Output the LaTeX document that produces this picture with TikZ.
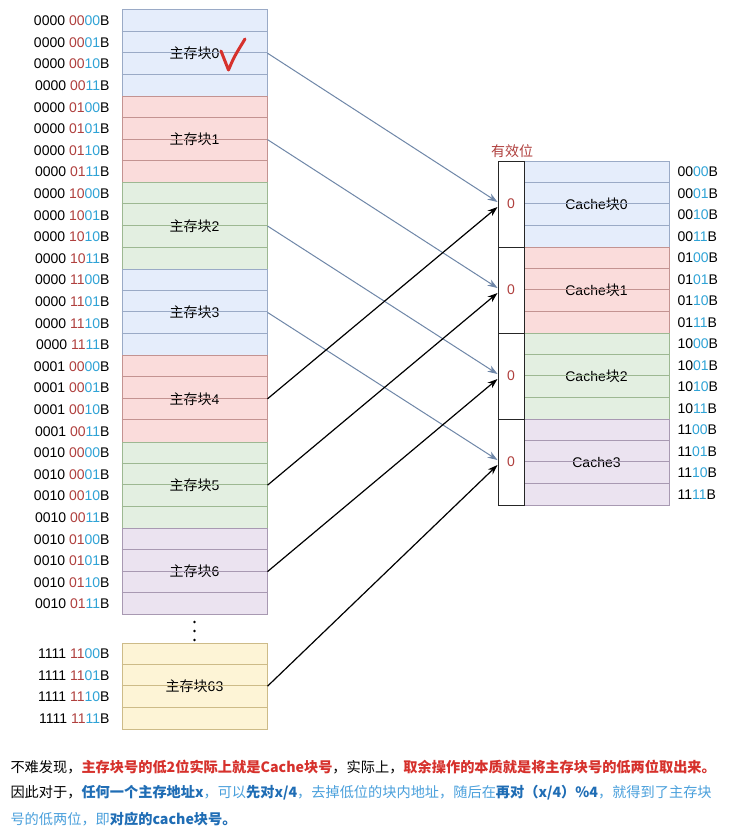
\documentclass[tikz,border=0pt]{standalone}
\usepackage{fontspec}
\usepackage{tikz}
\setmainfont{Liberation Sans}
\newfontfamily\cjk{Noto Sans CJK SC}
\definecolor{azulclaro}{HTML}{E5EDFB}
\definecolor{vermclaro}{HTML}{FADCDB}
\definecolor{verdeclaro}{HTML}{E3EFE1}
\definecolor{roxoclaro}{HTML}{EBE3F0}
\definecolor{amareloclaro}{HTML}{FDF4D6}
\definecolor{azul}{HTML}{9AAAC6}
\definecolor{verm}{HTML}{C39391}
\definecolor{verde}{HTML}{9DB892}
\definecolor{roxo}{HTML}{A899B2}
\definecolor{amarelo}{HTML}{CDBB88}
\definecolor{vermtxt}{HTML}{B0403E}
\definecolor{azultxt}{HTML}{2FA3D6}
\definecolor{setaazul}{HTML}{6F87A8}
\definecolor{vermforte}{HTML}{D6312C}
\definecolor{azulforte}{HTML}{1F6DB5}
\definecolor{azulsuave}{HTML}{4AA0DC}
\usetikzlibrary{arrows.meta}
\tikzstyle{bloco}=[rectangle, draw, minimum width=145pt, minimum height=86.4pt, inner sep=0pt, font=\fontsize{14}{16}\selectfont]
\tikzstyle{endereco}=[anchor=east, inner sep=0pt, font=\fontsize{14}{16}\selectfont]
\tikzstyle{valido}=[rectangle, draw=black!85, fill=white, minimum width=26pt, minimum height=86pt, inner sep=0pt, text=vermtxt, font=\fontsize{14}{16}\selectfont]
\tikzstyle{seta}=[draw=setaazul, -{Stealth[length=10pt,width=7pt]}]
\tikzstyle{setapreta}=[draw=black, line width=1.2pt, -{Stealth[length=10pt,width=7pt]}]
\tikzstyle{texto}=[anchor=west, inner sep=0pt, font=\cjk\fontsize{14.2}{17}\selectfont]

\begin{document}
\begin{tikzpicture}[x=1pt, y=-1pt, line width=1pt]
			\useasboundingbox (0,0) rectangle (728,840);
			\fill[white] (0,0) rectangle (728,840);
			% memoria principal
			\foreach \i/\fundo/\borda/\alto/\meio in {0/azulclaro/azul/0000/00, 1/vermclaro/verm/0000/01, 2/verdeclaro/verde/0000/10, 3/azulclaro/azul/0000/11, 4/vermclaro/verm/0001/00, 5/verdeclaro/verde/0010/00, 6/roxoclaro/roxo/0010/01}{
				\node[bloco, fill=\fundo, draw=\borda] (m\i) at (194.5, 53.2+86.4*\i) {{\cjk 主存块}\i};
				\foreach \k in {1,2,3}
					\draw[draw=\borda] ([yshift={-21.6pt*\k}]m\i.north west) -- ([yshift={-21.6pt*\k}]m\i.north east);
				\foreach \k/\baixo in {0/00,1/01,2/10,3/11}
					\node[endereco] (e\i\k) at (110, 20.8+86.4*\i+21.6*\k) {\alto\ \textcolor{vermtxt}{\meio}\textcolor{azultxt}{\baixo}B};
			}
			\foreach \y in {622,631,640}
				\fill (194.5,\y) circle (1.4pt);
			\node[bloco, fill=amareloclaro, draw=amarelo] (m63) at (194.5, 686.2) {{\cjk 主存块}63};
			\foreach \k in {1,2,3}
				\draw[draw=amarelo] ([yshift={-21.6pt*\k}]m63.north west) -- ([yshift={-21.6pt*\k}]m63.north east);
			\foreach \k/\baixo in {0/00,1/01,2/10,3/11}
				\node[endereco] (f\k) at (110, 653.8+21.6*\k) {1111 \textcolor{vermtxt}{11}\textcolor{azultxt}{\baixo}B};
			\draw[vermforte, line width=3pt, line cap=round, line join=round] (221,51) -- (228.5,70) .. controls (234,57) .. (245,39);
			% cache
			\node[text=vermtxt, inner sep=0pt, font=\fontsize{14}{16}\selectfont] (rotulo) at (512,151) {\cjk 有效位};
			\foreach \j/\fundo/\borda/\nome/\bits in {0/azulclaro/azul/Cache{\cjk 块}0/00, 1/vermclaro/verm/Cache{\cjk 块}1/01, 2/verdeclaro/verde/Cache{\cjk 块}2/10, 3/roxoclaro/roxo/Cache3/11}{
				\node[bloco, minimum height=86pt, fill=\fundo, draw=\borda] (c\j) at (596.5, 204+86*\j) {\nome};
				\foreach \k in {1,2,3}
					\draw[draw=\borda] ([yshift={-21.5pt*\k}]c\j.north west) -- ([yshift={-21.5pt*\k}]c\j.north east);
				\node[valido] (v\j) at (511, 204+86*\j) {0};
				\foreach \k/\baixo in {0/00,1/01,2/10,3/11}
					\node[endereco, anchor=west] (d\j\k) at (677, 171.8+86*\j+21.5*\k) {\bits\textcolor{azultxt}{\baixo}B};
			}
			% ligacoes
			\foreach \i/\j in {0/0,1/1,2/2,3/3}
				\draw[seta] (m\i.east) -- ([yshift=2pt]v\j.west);
			\foreach \i/\j in {4/0,5/1,6/2,63/3}
				\draw[setapreta] (m\i.east) -- ([yshift=-3pt]v\j.west);
			% texto
			\node[texto] (t1) at (10,767) {不难发现，\textbf{\textcolor{vermforte}{主存块号的低2位实际上就是Cache块号}}，实际上，\textbf{\textcolor{vermforte}{取余操作的本质就是将主存块号的低两位取出来。}}};
			\node[texto] (t2) at (10,793) {因此对于，\textbf{\textcolor{azulforte}{任何一个主存地址x}}\textcolor{azulsuave}{，可以}\textbf{\textcolor{azulforte}{先对x/4}}\textcolor{azulsuave}{，去掉低位的块内地址，随后在}\textbf{\textcolor{azulforte}{再对（x/4）\%4}}\textcolor{azulsuave}{，就得到了主存块}};
			\node[texto] (t3) at (10,819) {\textcolor{azulsuave}{号的低两位，即}\textbf{\textcolor{azulforte}{对应的cache块号。}}};
		\end{tikzpicture}
\end{document}
